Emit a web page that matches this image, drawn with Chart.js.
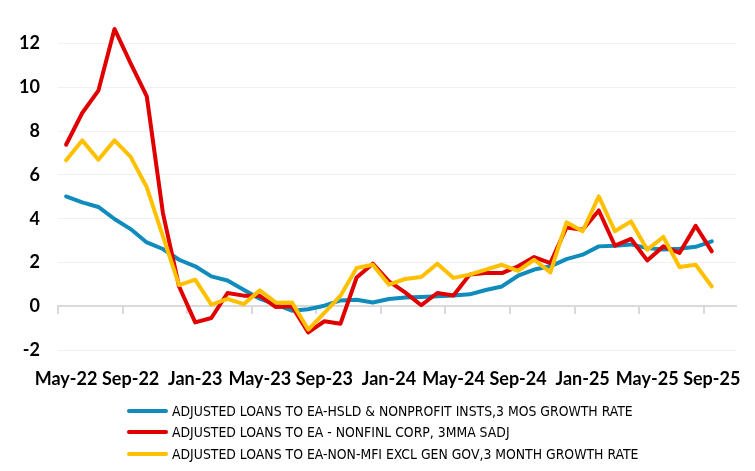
<!DOCTYPE html>
<html>
<head>
<meta charset="utf-8">
<script src="https://cdn.jsdelivr.net/npm/chart.js@4.4.1/dist/chart.umd.min.js"></script>
<style>
  html, body { margin:0; padding:0; background:#fff; }
  #wrap { position:relative; width:755px; height:471px; }
  #legend { position:absolute; left:127px; top:400px; }
  .row { height:21.5px; display:flex; align-items:center; white-space:nowrap; }
  .swatch { width:41px; height:4px; border-radius:2px; margin-right:4px; flex:none; }
  .txt { font-family:"Liberation Sans Narrow","DejaVu Sans Condensed","Liberation Sans",sans-serif; font-size:13.85px; color:#000; }
</style>
</head>
<body>
<div id="wrap">
  <canvas id="c" width="755" height="471"></canvas>
  <div id="legend"></div>
</div>
<script>
// meses (el ultimo, Oct-25, queda vacio como en el original)
const months = ['May-22','Jun-22','Jul-22','Aug-22','Sep-22','Oct-22','Nov-22','Dec-22',
  'Jan-23','Feb-23','Mar-23','Apr-23','May-23','Jun-23','Jul-23','Aug-23','Sep-23','Oct-23','Nov-23','Dec-23',
  'Jan-24','Feb-24','Mar-24','Apr-24','May-24','Jun-24','Jul-24','Aug-24','Sep-24','Oct-24','Nov-24','Dec-24',
  'Jan-25','Feb-25','Mar-25','Apr-25','May-25','Jun-25','Jul-25','Aug-25','Sep-25','Oct-25'];

const hhLoans = [5.02,4.75,4.54,3.99,3.53,2.92,2.62,2.13,1.83,1.37,1.18,0.76,0.35,0.08,-0.2,-0.13,0.03,0.27,0.3,0.18,
  0.34,0.4,0.43,0.46,0.5,0.55,0.75,0.91,1.4,1.68,1.83,2.16,2.36,2.74,2.77,2.83,2.66,2.6,2.63,2.72,2.97];
const nfcLoans = [7.38,8.83,9.85,12.67,11.1,9.59,4.26,0.91,-0.73,-0.53,0.61,0.49,0.48,-0.03,0.0,-1.19,-0.68,-0.79,1.32,1.95,
  1.14,0.64,0.05,0.61,0.5,1.45,1.52,1.52,1.83,2.25,1.98,3.6,3.5,4.38,2.77,3.08,2.1,2.74,2.44,3.68,2.51];
const privLoans = [6.67,7.58,6.7,7.58,6.83,5.44,3.2,0.97,1.22,0.08,0.34,0.1,0.73,0.17,0.18,-1.06,-0.3,0.49,1.75,1.9,
  0.99,1.25,1.34,1.95,1.3,1.45,1.68,1.9,1.62,2.13,1.55,3.84,3.43,5.02,3.43,3.88,2.59,3.17,1.8,1.9,0.91];

const yTicks = [-2,0,2,4,6,8,10,12];

const boldFont = { family:'Lato', size:18, weight:'bold' };

const chart = new Chart(document.getElementById('c'), {
  type:'line',
  data:{
    labels: months,
    datasets:[
      { label:'ADJUSTED LOANS TO EA-HSLD & NONPROFIT INSTS,3 MOS GROWTH RATE', data:hhLoans, borderColor:'#0f8cbc', order:3 },
      { label:'ADJUSTED LOANS TO EA - NONFINL CORP, 3MMA SADJ', data:nfcLoans, borderColor:'#e00000', order:2 },
      { label:'ADJUSTED LOANS TO EA-NON-MFI EXCL GEN GOV,3 MONTH GROWTH RATE', data:privLoans, borderColor:'#ffc000', order:1 }
    ]
  },
  options:{
    responsive:false,
    animation:false,
    layout:{ padding:{ top:2, right:19, bottom:77, left:0 } },
    elements:{
      line:{ borderWidth:4, tension:0, borderJoinStyle:'round', borderCapStyle:'round' },
      point:{ radius:0 }
    },
    plugins:{ legend:{ display:false }, tooltip:{ enabled:false } },
    scales:{
      x:{
        offset:true,
        grid:{ display:false, drawTicks:false },
        border:{ display:false },
        ticks:{
          autoSkip:false, maxRotation:0, padding:4, color:'#000', font:boldFont,
          callback:function(v, i){ return i % 4 === 0 ? this.getLabelForValue(v) : ''; }
        }
      },
      xz:{
        type:'category',
        position:{ y:0 },
        offset:true,
        grid:{
          offset:true, drawOnChartArea:false, drawTicks:true, tickLength:7, lineWidth:2,
          color:(ctx)=> ctx.index % 4 === 0 ? '#d9d9d9' : 'rgba(0,0,0,0)'
        },
        border:{ display:true, color:'#d9d9d9', width:2 },
        ticks:{ autoSkip:false, maxRotation:0, color:'rgba(0,0,0,0)', font:{ size:1 } }
      },
      y:{
        min:-2.65, max:13.9,
        afterBuildTicks:(s)=>{ s.ticks = yTicks.map(v=>({ value:v })); },
        afterFit:(s)=>{ s.width = 58; s.paddingTop = 0; s.paddingBottom = 0; },
        grid:{ drawTicks:false, lineWidth:1, color:(ctx)=> ctx.tick && ctx.tick.value === 0 ? 'rgba(0,0,0,0)' : '#f0f0f0' },
        border:{ display:false },
        ticks:{ padding:18, color:'#000', font:boldFont }
      }
    }
  }
});

// leyenda en HTML, a partir de los datasets
document.getElementById('legend').innerHTML = chart.data.datasets.map(d =>
  `<div class="row"><span class="swatch" style="background:${d.borderColor}"></span><span class="txt">${d.label.replace('&','&amp;')}</span></div>`
).join('');
</script>
</body>
</html>
